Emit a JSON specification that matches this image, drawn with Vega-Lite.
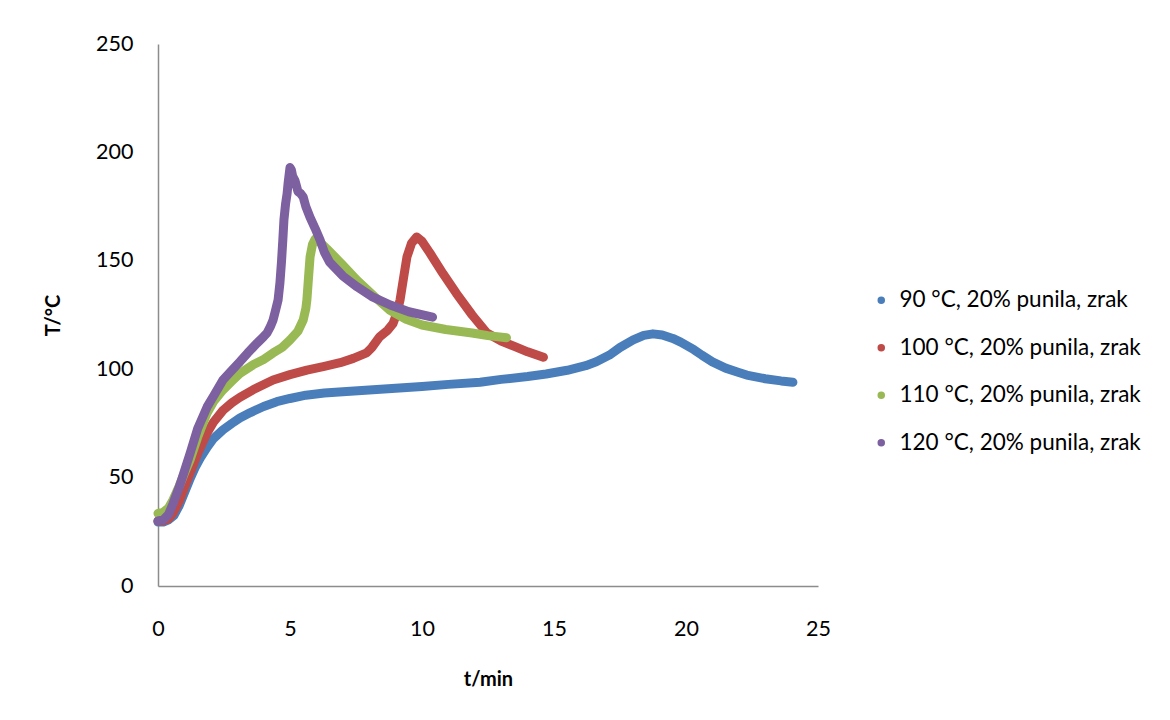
{
  "$schema": "https://vega.github.io/schema/vega-lite/v6.json",
  "autosize": "none",
  "width": 660,
  "height": 542,
  "padding": {"left": 158, "top": 44, "right": 352, "bottom": 134},
  "background": "white",
  "config": {
    "view": {"stroke": null},
    "font": "Lato",
    "axis": {
      "grid": false,
      "ticks": false,
      "domainColor": "#8c8c8c",
      "domainWidth": 1.5,
      "labelFont": "Lato",
      "labelFontSize": 21.5,
      "labelColor": "#000",
      "labelFlush": false,
      "titleFont": "Lato",
      "titleFontSize": 20,
      "titleFontWeight": "bold",
      "titleColor": "#000"
    },
    "legend": {
      "labelFont": "Lato",
      "labelFontSize": 22.5,
      "labelColor": "#000"
    }
  },
  "data": {
    "values": [
      {"s": "90 °C, 20% punila, zrak", "t": 0, "T": 29.5},
      {"s": "90 °C, 20% punila, zrak", "t": 0.2, "T": 29.5},
      {"s": "90 °C, 20% punila, zrak", "t": 0.4, "T": 30.5},
      {"s": "90 °C, 20% punila, zrak", "t": 0.6, "T": 32.5},
      {"s": "90 °C, 20% punila, zrak", "t": 0.8, "T": 37},
      {"s": "90 °C, 20% punila, zrak", "t": 1.0, "T": 43},
      {"s": "90 °C, 20% punila, zrak", "t": 1.2, "T": 49},
      {"s": "90 °C, 20% punila, zrak", "t": 1.4, "T": 54.5},
      {"s": "90 °C, 20% punila, zrak", "t": 1.6, "T": 59},
      {"s": "90 °C, 20% punila, zrak", "t": 1.86, "T": 64},
      {"s": "90 °C, 20% punila, zrak", "t": 2.1, "T": 68},
      {"s": "90 °C, 20% punila, zrak", "t": 2.46, "T": 72},
      {"s": "90 °C, 20% punila, zrak", "t": 2.8, "T": 75},
      {"s": "90 °C, 20% punila, zrak", "t": 3.1, "T": 77.5},
      {"s": "90 °C, 20% punila, zrak", "t": 3.5, "T": 80},
      {"s": "90 °C, 20% punila, zrak", "t": 4.0, "T": 82.8},
      {"s": "90 °C, 20% punila, zrak", "t": 4.5, "T": 85},
      {"s": "90 °C, 20% punila, zrak", "t": 5.0, "T": 86.5},
      {"s": "90 °C, 20% punila, zrak", "t": 5.6, "T": 88},
      {"s": "90 °C, 20% punila, zrak", "t": 6.3, "T": 89},
      {"s": "90 °C, 20% punila, zrak", "t": 7.0, "T": 89.6},
      {"s": "90 °C, 20% punila, zrak", "t": 8.0, "T": 90.4},
      {"s": "90 °C, 20% punila, zrak", "t": 9.0, "T": 91.2},
      {"s": "90 °C, 20% punila, zrak", "t": 10.0, "T": 92},
      {"s": "90 °C, 20% punila, zrak", "t": 11.0, "T": 93},
      {"s": "90 °C, 20% punila, zrak", "t": 12.2, "T": 94},
      {"s": "90 °C, 20% punila, zrak", "t": 13.0, "T": 95.3},
      {"s": "90 °C, 20% punila, zrak", "t": 14.0, "T": 96.6},
      {"s": "90 °C, 20% punila, zrak", "t": 14.7, "T": 97.8},
      {"s": "90 °C, 20% punila, zrak", "t": 15.5, "T": 99.5},
      {"s": "90 °C, 20% punila, zrak", "t": 16.2, "T": 101.6},
      {"s": "90 °C, 20% punila, zrak", "t": 16.6, "T": 103.4},
      {"s": "90 °C, 20% punila, zrak", "t": 17.1, "T": 106.5},
      {"s": "90 °C, 20% punila, zrak", "t": 17.5, "T": 110},
      {"s": "90 °C, 20% punila, zrak", "t": 18.0, "T": 113.5},
      {"s": "90 °C, 20% punila, zrak", "t": 18.4, "T": 115.6},
      {"s": "90 °C, 20% punila, zrak", "t": 18.75, "T": 116.3},
      {"s": "90 °C, 20% punila, zrak", "t": 19.1, "T": 115.8},
      {"s": "90 °C, 20% punila, zrak", "t": 19.5, "T": 114.2},
      {"s": "90 °C, 20% punila, zrak", "t": 19.8, "T": 112.5},
      {"s": "90 °C, 20% punila, zrak", "t": 20.3, "T": 109},
      {"s": "90 °C, 20% punila, zrak", "t": 20.6, "T": 106.5},
      {"s": "90 °C, 20% punila, zrak", "t": 21.0, "T": 103.4},
      {"s": "90 °C, 20% punila, zrak", "t": 21.5, "T": 100.5},
      {"s": "90 °C, 20% punila, zrak", "t": 22.0, "T": 98.5},
      {"s": "90 °C, 20% punila, zrak", "t": 22.3, "T": 97.3},
      {"s": "90 °C, 20% punila, zrak", "t": 23.0, "T": 95.6},
      {"s": "90 °C, 20% punila, zrak", "t": 23.6, "T": 94.6},
      {"s": "90 °C, 20% punila, zrak", "t": 24.05, "T": 94},

      {"s": "100 °C, 20% punila, zrak", "t": 0, "T": 30},
      {"s": "100 °C, 20% punila, zrak", "t": 0.2, "T": 30},
      {"s": "100 °C, 20% punila, zrak", "t": 0.4, "T": 31},
      {"s": "100 °C, 20% punila, zrak", "t": 0.57, "T": 33.7},
      {"s": "100 °C, 20% punila, zrak", "t": 0.8, "T": 39},
      {"s": "100 °C, 20% punila, zrak", "t": 1.0, "T": 45.5},
      {"s": "100 °C, 20% punila, zrak", "t": 1.21, "T": 52},
      {"s": "100 °C, 20% punila, zrak", "t": 1.5, "T": 61},
      {"s": "100 °C, 20% punila, zrak", "t": 1.86, "T": 70.6},
      {"s": "100 °C, 20% punila, zrak", "t": 2.1, "T": 75.5},
      {"s": "100 °C, 20% punila, zrak", "t": 2.46, "T": 81},
      {"s": "100 °C, 20% punila, zrak", "t": 2.8, "T": 84.5},
      {"s": "100 °C, 20% punila, zrak", "t": 3.1, "T": 87},
      {"s": "100 °C, 20% punila, zrak", "t": 3.6, "T": 90.5},
      {"s": "100 °C, 20% punila, zrak", "t": 4.36, "T": 95},
      {"s": "100 °C, 20% punila, zrak", "t": 5.0, "T": 97.5},
      {"s": "100 °C, 20% punila, zrak", "t": 5.64, "T": 99.6},
      {"s": "100 °C, 20% punila, zrak", "t": 6.3, "T": 101.3},
      {"s": "100 °C, 20% punila, zrak", "t": 6.9, "T": 103},
      {"s": "100 °C, 20% punila, zrak", "t": 7.4, "T": 105},
      {"s": "100 °C, 20% punila, zrak", "t": 7.9, "T": 107.5},
      {"s": "100 °C, 20% punila, zrak", "t": 8.1, "T": 110},
      {"s": "100 °C, 20% punila, zrak", "t": 8.4, "T": 115},
      {"s": "100 °C, 20% punila, zrak", "t": 8.7, "T": 118},
      {"s": "100 °C, 20% punila, zrak", "t": 8.9, "T": 121},
      {"s": "100 °C, 20% punila, zrak", "t": 9.05, "T": 126},
      {"s": "100 °C, 20% punila, zrak", "t": 9.17, "T": 132},
      {"s": "100 °C, 20% punila, zrak", "t": 9.3, "T": 142},
      {"s": "100 °C, 20% punila, zrak", "t": 9.43, "T": 151.8},
      {"s": "100 °C, 20% punila, zrak", "t": 9.6, "T": 158},
      {"s": "100 °C, 20% punila, zrak", "t": 9.8, "T": 161},
      {"s": "100 °C, 20% punila, zrak", "t": 10.0, "T": 159},
      {"s": "100 °C, 20% punila, zrak", "t": 10.3, "T": 153.6},
      {"s": "100 °C, 20% punila, zrak", "t": 10.8, "T": 144},
      {"s": "100 °C, 20% punila, zrak", "t": 11.3, "T": 135},
      {"s": "100 °C, 20% punila, zrak", "t": 11.9, "T": 125},
      {"s": "100 °C, 20% punila, zrak", "t": 12.46, "T": 116.7},
      {"s": "100 °C, 20% punila, zrak", "t": 13.0, "T": 113},
      {"s": "100 °C, 20% punila, zrak", "t": 13.5, "T": 110.5},
      {"s": "100 °C, 20% punila, zrak", "t": 14.0, "T": 108},
      {"s": "100 °C, 20% punila, zrak", "t": 14.6, "T": 105.5},

      {"s": "110 °C, 20% punila, zrak", "t": 0, "T": 33.5},
      {"s": "110 °C, 20% punila, zrak", "t": 0.2, "T": 34},
      {"s": "110 °C, 20% punila, zrak", "t": 0.4, "T": 36},
      {"s": "110 °C, 20% punila, zrak", "t": 0.57, "T": 39.7},
      {"s": "110 °C, 20% punila, zrak", "t": 0.8, "T": 46},
      {"s": "110 °C, 20% punila, zrak", "t": 1.0, "T": 52},
      {"s": "110 °C, 20% punila, zrak", "t": 1.21, "T": 58},
      {"s": "110 °C, 20% punila, zrak", "t": 1.5, "T": 68.5},
      {"s": "110 °C, 20% punila, zrak", "t": 1.86, "T": 79.8},
      {"s": "110 °C, 20% punila, zrak", "t": 2.1, "T": 85},
      {"s": "110 °C, 20% punila, zrak", "t": 2.46, "T": 90.4},
      {"s": "110 °C, 20% punila, zrak", "t": 2.8, "T": 94.5},
      {"s": "110 °C, 20% punila, zrak", "t": 3.1, "T": 98},
      {"s": "110 °C, 20% punila, zrak", "t": 3.6, "T": 102},
      {"s": "110 °C, 20% punila, zrak", "t": 4.0, "T": 104.5},
      {"s": "110 °C, 20% punila, zrak", "t": 4.36, "T": 107.5},
      {"s": "110 °C, 20% punila, zrak", "t": 4.7, "T": 110},
      {"s": "110 °C, 20% punila, zrak", "t": 5.0, "T": 113.5},
      {"s": "110 °C, 20% punila, zrak", "t": 5.3, "T": 117.5},
      {"s": "110 °C, 20% punila, zrak", "t": 5.5, "T": 122.7},
      {"s": "110 °C, 20% punila, zrak", "t": 5.6, "T": 128},
      {"s": "110 °C, 20% punila, zrak", "t": 5.64, "T": 132},
      {"s": "110 °C, 20% punila, zrak", "t": 5.7, "T": 142},
      {"s": "110 °C, 20% punila, zrak", "t": 5.76, "T": 151.8},
      {"s": "110 °C, 20% punila, zrak", "t": 5.85, "T": 157.5},
      {"s": "110 °C, 20% punila, zrak", "t": 5.95, "T": 160},
      {"s": "110 °C, 20% punila, zrak", "t": 6.1, "T": 159},
      {"s": "110 °C, 20% punila, zrak", "t": 6.4, "T": 155.5},
      {"s": "110 °C, 20% punila, zrak", "t": 7.0, "T": 148},
      {"s": "110 °C, 20% punila, zrak", "t": 7.54, "T": 141},
      {"s": "110 °C, 20% punila, zrak", "t": 8.2, "T": 133.5},
      {"s": "110 °C, 20% punila, zrak", "t": 8.8, "T": 127},
      {"s": "110 °C, 20% punila, zrak", "t": 9.4, "T": 123},
      {"s": "110 °C, 20% punila, zrak", "t": 10.0, "T": 120.4},
      {"s": "110 °C, 20% punila, zrak", "t": 10.9, "T": 118.3},
      {"s": "110 °C, 20% punila, zrak", "t": 11.9, "T": 116.7},
      {"s": "110 °C, 20% punila, zrak", "t": 12.5, "T": 115.5},
      {"s": "110 °C, 20% punila, zrak", "t": 13.2, "T": 114.5},

      {"s": "120 °C, 20% punila, zrak", "t": 0, "T": 30},
      {"s": "120 °C, 20% punila, zrak", "t": 0.2, "T": 30.5},
      {"s": "120 °C, 20% punila, zrak", "t": 0.4, "T": 33},
      {"s": "120 °C, 20% punila, zrak", "t": 0.57, "T": 38},
      {"s": "120 °C, 20% punila, zrak", "t": 0.8, "T": 45.5},
      {"s": "120 °C, 20% punila, zrak", "t": 1.0, "T": 53},
      {"s": "120 °C, 20% punila, zrak", "t": 1.21, "T": 61},
      {"s": "120 °C, 20% punila, zrak", "t": 1.5, "T": 72.5},
      {"s": "120 °C, 20% punila, zrak", "t": 1.86, "T": 82.6},
      {"s": "120 °C, 20% punila, zrak", "t": 2.1, "T": 87.5},
      {"s": "120 °C, 20% punila, zrak", "t": 2.46, "T": 95},
      {"s": "120 °C, 20% punila, zrak", "t": 2.8, "T": 99.5},
      {"s": "120 °C, 20% punila, zrak", "t": 3.1, "T": 103.4},
      {"s": "120 °C, 20% punila, zrak", "t": 3.4, "T": 107.5},
      {"s": "120 °C, 20% punila, zrak", "t": 3.75, "T": 112},
      {"s": "120 °C, 20% punila, zrak", "t": 4.0, "T": 115},
      {"s": "120 °C, 20% punila, zrak", "t": 4.13, "T": 116.7},
      {"s": "120 °C, 20% punila, zrak", "t": 4.25, "T": 119.5},
      {"s": "120 °C, 20% punila, zrak", "t": 4.36, "T": 122.7},
      {"s": "120 °C, 20% punila, zrak", "t": 4.45, "T": 127},
      {"s": "120 °C, 20% punila, zrak", "t": 4.55, "T": 132},
      {"s": "120 °C, 20% punila, zrak", "t": 4.62, "T": 140},
      {"s": "120 °C, 20% punila, zrak", "t": 4.68, "T": 150},
      {"s": "120 °C, 20% punila, zrak", "t": 4.73, "T": 160},
      {"s": "120 °C, 20% punila, zrak", "t": 4.77, "T": 168.8},
      {"s": "120 °C, 20% punila, zrak", "t": 4.83, "T": 176},
      {"s": "120 °C, 20% punila, zrak", "t": 4.89, "T": 181},
      {"s": "120 °C, 20% punila, zrak", "t": 4.93, "T": 186},
      {"s": "120 °C, 20% punila, zrak", "t": 4.97, "T": 190},
      {"s": "120 °C, 20% punila, zrak", "t": 5.0, "T": 193},
      {"s": "120 °C, 20% punila, zrak", "t": 5.05, "T": 192},
      {"s": "120 °C, 20% punila, zrak", "t": 5.1, "T": 189},
      {"s": "120 °C, 20% punila, zrak", "t": 5.19, "T": 187},
      {"s": "120 °C, 20% punila, zrak", "t": 5.3, "T": 182},
      {"s": "120 °C, 20% punila, zrak", "t": 5.4, "T": 181},
      {"s": "120 °C, 20% punila, zrak", "t": 5.5, "T": 179.4},
      {"s": "120 °C, 20% punila, zrak", "t": 5.6, "T": 175},
      {"s": "120 °C, 20% punila, zrak", "t": 5.76, "T": 170},
      {"s": "120 °C, 20% punila, zrak", "t": 5.95, "T": 165},
      {"s": "120 °C, 20% punila, zrak", "t": 6.14, "T": 159.6},
      {"s": "120 °C, 20% punila, zrak", "t": 6.3, "T": 154},
      {"s": "120 °C, 20% punila, zrak", "t": 6.5, "T": 149.4},
      {"s": "120 °C, 20% punila, zrak", "t": 7.0, "T": 143},
      {"s": "120 °C, 20% punila, zrak", "t": 7.54, "T": 138},
      {"s": "120 °C, 20% punila, zrak", "t": 8.1, "T": 133.5},
      {"s": "120 °C, 20% punila, zrak", "t": 8.8, "T": 129.6},
      {"s": "120 °C, 20% punila, zrak", "t": 9.5, "T": 126.5},
      {"s": "120 °C, 20% punila, zrak", "t": 10.4, "T": 124}
    ]
  },
  "encoding": {
    "x": {
      "field": "t", "type": "quantitative",
      "scale": {"domain": [0, 25], "nice": false, "zero": true},
      "axis": {"values": [0, 5, 10, 15, 20, 25], "title": "t/min", "labelPadding": 32, "titlePadding": 30}
    },
    "y": {
      "field": "T", "type": "quantitative",
      "scale": {"domain": [0, 250], "nice": false},
      "axis": {"values": [0, 50, 100, 150, 200, 250], "title": "T/°C", "labelPadding": 25, "titlePadding": 32}
    }
  },
  "layer": [
    {
      "mark": {"type": "point", "filled": true, "shape": "circle", "size": 40, "opacity": 1},
      "encoding": {
        "color": {"field": "s", "type": "nominal",
          "scale": {
            "domain": ["90 °C, 20% punila, zrak", "100 °C, 20% punila, zrak", "110 °C, 20% punila, zrak", "120 °C, 20% punila, zrak"],
            "range": ["#4a7ebb", "#be4b48", "#98b954", "#7d60a0"]
          },
          "legend": {
            "title": null,
            "orient": "none",
            "legendX": 712,
            "legendY": 245,
            "symbolType": "circle",
            "symbolSize": 36,
            "rowPadding": 24.5,
            "labelOffset": 7,
            "labelLimit": 400
          }
        }
      }
    },
    {
      "mark": {"type": "line", "strokeWidth": 9, "strokeCap": "round", "strokeJoin": "round", "interpolate": "linear"},
      "encoding": {
        "stroke": {"field": "s", "type": "nominal", "legend": null,
          "scale": {
            "domain": ["90 °C, 20% punila, zrak", "100 °C, 20% punila, zrak", "110 °C, 20% punila, zrak", "120 °C, 20% punila, zrak"],
            "range": ["#4a7ebb", "#be4b48", "#98b954", "#7d60a0"]
          }
        }
      }
    }
  ]
}
